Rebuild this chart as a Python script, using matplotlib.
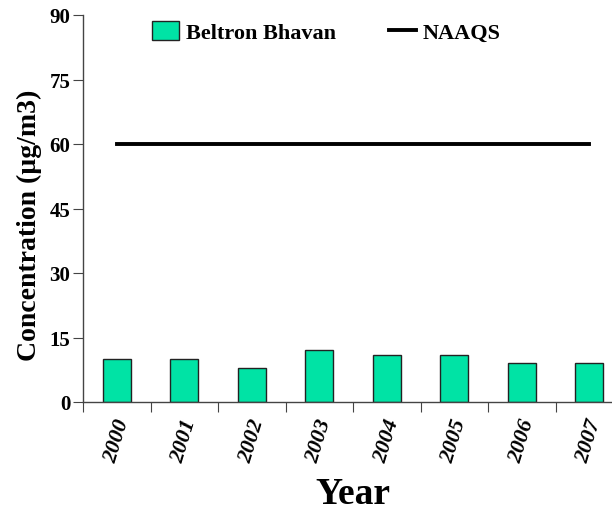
import matplotlib
matplotlib.use("Agg")
import matplotlib.pyplot as plt
import numpy as np

years = ["2000", "2001", "2002", "2003", "2004", "2005", "2006", "2007"]
beltron = [10, 10, 8, 12, 11, 11, 9, 9]
naaqs = [60] * len(years)
yticks = [0, 15, 30, 45, 60, 75, 90]

plt.rcParams["font.family"] = ["Liberation Serif", "DejaVu Serif"]
plt.rcParams["font.weight"] = "bold"

fig = plt.figure(figsize=(6.12, 5.10), dpi=100)
ax = fig.add_axes([83 / 612, 107 / 510, 529 / 612, 387 / 510])

x = np.arange(len(years))
bars = ax.bar(x, beltron, width=0.41, color="#00E3A5", edgecolor="#222222",
              linewidth=1.0, label="Beltron Bhavan", zorder=2)
line, = ax.plot(x, naaqs, color="black", linewidth=2.8, label="NAAQS", zorder=3)

ax.set_xlim(-0.5, 7.337)
ax.set_ylim(0, 90)
ax.set_yticks(yticks)
ax.set_yticklabels([str(v) for v in yticks], fontsize=15, fontweight="bold")

# ticks at category boundaries, labels at category centers
ax.set_xticks(np.arange(len(years)) - 0.5)
ax.set_xticklabels([])
ax.set_xticks(x, minor=True)
ax.set_xticklabels(years, minor=True, rotation=73, fontsize=16,
                   fontweight="bold", fontstyle="italic", ha="center", va="top")
ax.tick_params(axis="x", which="major", length=7, direction="out", color="#444444")
ax.tick_params(axis="x", which="minor", length=0, pad=10)
ax.tick_params(axis="y", length=7, direction="out", color="#444444", pad=2)

for side in ("top", "right"):
    ax.spines[side].set_visible(False)
for side in ("left", "bottom"):
    ax.spines[side].set_color("#444444")
    ax.spines[side].set_linewidth(1.0)

ax.set_xlabel("Year", fontsize=27, fontweight="bold")
ax.xaxis.set_label_coords(0.51, -0.19)
ax.set_ylabel("Concentration (µg/m3)", fontsize=20, fontweight="bold")
ax.yaxis.set_label_coords(-0.078, 0.46)

fig.legend(handles=[bars, line], labels=["Beltron Bhavan", "NAAQS"],
           loc="center", bbox_to_anchor=(0.533, 0.935), ncol=2, frameon=False,
           prop={"size": 16, "weight": "bold"}, handlelength=1.2,
           handleheight=0.9, handletextpad=0.3, columnspacing=2.4)

fig.savefig("out.png", dpi=100, facecolor="white")
